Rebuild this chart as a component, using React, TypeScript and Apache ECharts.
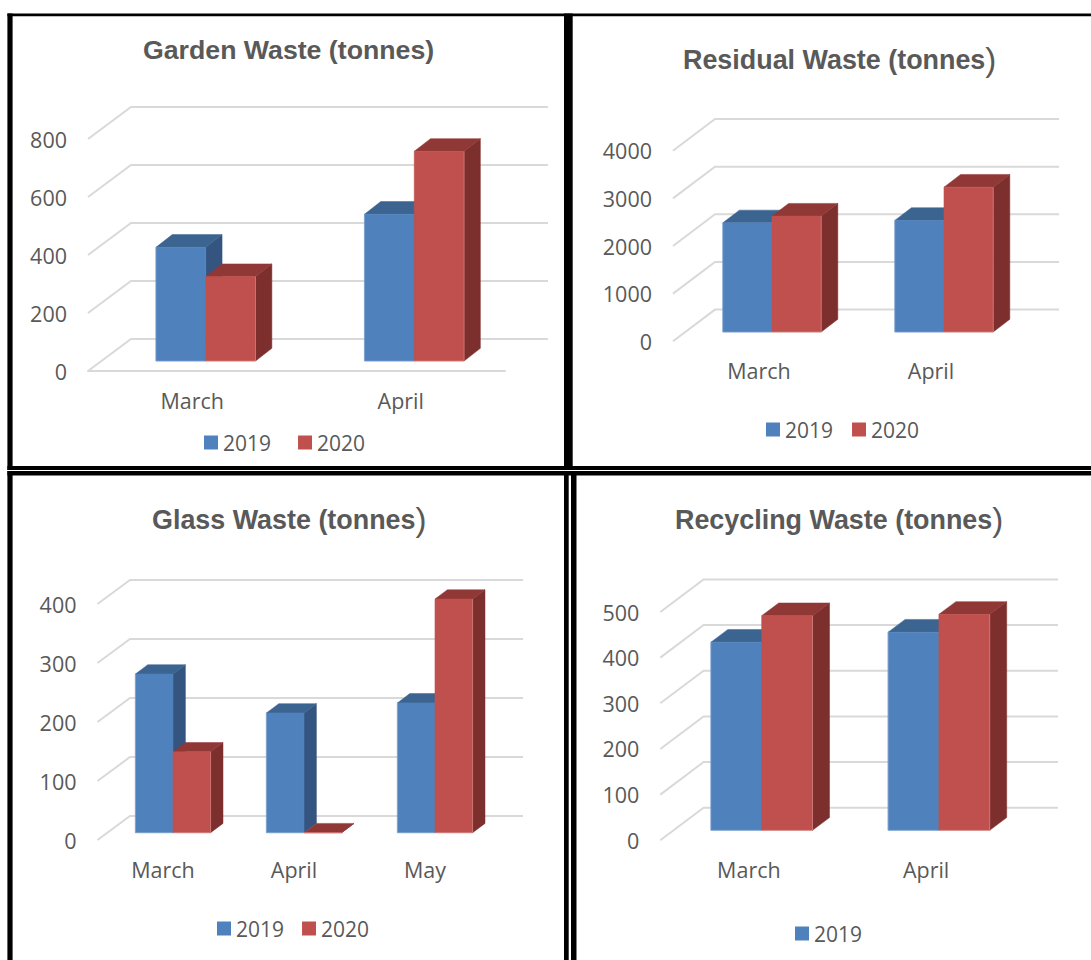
import React, { useEffect, useRef } from "react";
import * as echarts from "echarts";

// Values per waste stream, in tonnes.
const gardenMonths = ["March", "April"];
const garden2019 = [392, 506];
const garden2020 = [291, 723];
const gardenTicks = [0, 200, 400, 600, 800];

const residualMonths = ["March", "April"];
const residual2019 = [2291, 2342];
const residual2020 = [2432, 3040];
const residualTicks = [0, 1000, 2000, 3000, 4000];

const glassMonths = ["March", "April", "May"];
const glass2019 = [269, 203, 220];
const glass2020 = [137, 0, 396];
const glassTicks = [0, 100, 200, 300, 400];

const recyclingMonths = ["March", "April"];
const recycling2019 = [412, 434];
const recycling2020 = [470, 473];
const recyclingTicks = [0, 100, 200, 300, 400, 500];

const TEXT = "#595959";
const GRID = "#D9D9D9";
const LABEL_FONT = "'Open Sans'";
const BLUE = { front: "#4F81BD", top: "#3C6491", side: "#335580", edge: "#93B3DA" };
const RED = { front: "#C0504D", top: "#903836", side: "#7C2F2D", edge: "#DC9896" };

type Panel = {
  months: string[];
  a: number[];
  b: number[];
  ticks: number[];
  title: string;
  closeParen: boolean; // the closing bracket is set in a taller, lighter face
  titleSize: number;
  titleX: number;
  titleY: number;
  grid: { left: number; top: number; width: number; height: number };
  wall: [number, number]; // depth of the back wall
  shift: [number, number]; // offset of the bars into the floor
  depth: [number, number]; // depth of one bar
  barWidth: number;
  floorLine: boolean;
  labelMargin: number;
  legend: string[];
  legendX: number;
  legendY: number;
  legendGap: number;
};

const panels: Panel[] = [
  {
    months: gardenMonths, a: garden2019, b: garden2020, ticks: gardenTicks,
    title: "Garden Waste (tonnes)", closeParen: false, titleSize: 26.7, titleX: 143, titleY: 36,
    grid: { left: 88, top: 139, width: 417, height: 232 },
    wall: [43, 32], shift: [13.5, 10], depth: [16.3, 12.7], barWidth: 49.8,
    floorLine: true, labelMargin: 18,
    legend: ["2019", "2020"], legendX: 204, legendY: 432, legendGap: 27,
  },
  {
    months: residualMonths, a: residual2019, b: residual2020, ticks: residualTicks,
    title: "Residual Waste (tonnes", closeParen: true, titleSize: 26.9, titleX: 683, titleY: 43,
    grid: { left: 673, top: 150.7, width: 344, height: 190.6 },
    wall: [42, 31.7], shift: [13, 9.3], depth: [16.6, 12.7], barWidth: 49.2,
    floorLine: false, labelMargin: 18,
    legend: ["2019", "2020"], legendX: 766, legendY: 419, legendGap: 19,
  },
  {
    months: glassMonths, a: glass2019, b: glass2020, ticks: glassTicks,
    title: "Glass Waste (tonnes", closeParen: true, titleSize: 26.9, titleX: 152, titleY: 503,
    grid: { left: 97.5, top: 604, width: 393, height: 236 },
    wall: [32.5, 24], shift: [10, 7.3], depth: [12.4, 9.3], barWidth: 37.6,
    floorLine: false, labelMargin: 18,
    legend: ["2019", "2020"], legendX: 217, legendY: 918, legendGap: 18,
  },
  {
    months: recyclingMonths, a: recycling2019, b: recycling2020, ticks: recyclingTicks,
    title: "Recycling Waste (tonnes", closeParen: true, titleSize: 26.9, titleX: 675, titleY: 503,
    grid: { left: 660.3, top: 612, width: 354.4, height: 228.3 },
    wall: [43.3, 32.6], shift: [12.8, 10], depth: [17, 12.7], barWidth: 50.8,
    floorLine: false, labelMargin: 18,
    legend: ["2019"], legendX: 795, legendY: 923, legendGap: 18,
  },
];

// Black frames around the four charts, as [x, y, width, height].
const frameBars = [
  [7.4, 13.4, 1083.6, 2.8],
  [7.4, 13.4, 5.2, 456.6],
  [564, 13.4, 8.7, 456.6],
  [7.4, 466, 1083.6, 4],
  [7.4, 471, 1083.6, 4.6],
  [7.4, 471, 5.2, 489],
  [564, 471, 4.7, 489],
  [571, 471, 5.5, 489],
];

function wallSeries(p: Panel, gridIndex: number) {
  return {
    type: "custom",
    xAxisIndex: gridIndex,
    yAxisIndex: gridIndex,
    silent: true,
    z: 1,
    clip: false,
    data: p.ticks.map((t) => [0, t]),
    encode: { x: 0, y: 1 },
    renderItem(params: any, api: any) {
      const cs = params.coordSys;
      const y = api.coord([0, api.value(1)])[1];
      return {
        type: "polyline",
        shape: {
          points: [
            [cs.x, y],
            [cs.x + p.wall[0], y - p.wall[1]],
            [cs.x + cs.width + p.wall[0], y - p.wall[1]],
          ],
        },
        style: { stroke: GRID, lineWidth: 2, fill: null },
      };
    },
  };
}

function barSeries(
  p: Panel,
  gridIndex: number,
  name: string,
  values: number[],
  slot: number,
  c: { front: string; top: string; side: string; edge: string },
) {
  return {
    type: "custom",
    name,
    xAxisIndex: gridIndex,
    yAxisIndex: gridIndex,
    silent: true,
    z: 2,
    clip: false,
    itemStyle: { color: c.front },
    data: values.map((v, i) => [i, v]),
    encode: { x: 0, y: 1 },
    renderItem(_params: any, api: any) {
      const top = api.coord([api.value(0), api.value(1)]);
      const base = api.coord([api.value(0), 0]);
      const x0 = top[0] + p.shift[0] + (slot - 1) * p.barWidth;
      const x1 = x0 + p.barWidth;
      const yT = top[1] - p.shift[1];
      const yB = base[1] - p.shift[1];
      const [dx, dy] = p.depth;
      // Lit rim along the outer and lower edges of the front face.
      const rim =
        slot === 0
          ? [[x0, yT], [x0, yB], [x1, yB]]
          : [[x0, yB], [x1, yB], [x1, yT]];
      return {
        type: "group",
        children: [
          {
            type: "polygon",
            shape: { points: [[x1, yT], [x1 + dx, yT - dy], [x1 + dx, yB - dy], [x1, yB]] },
            style: { fill: c.side, stroke: c.side, lineWidth: 0.5 },
          },
          {
            type: "polygon",
            shape: { points: [[x0, yT], [x0 + dx, yT - dy], [x1 + dx, yT - dy], [x1, yT]] },
            style: { fill: c.top, stroke: c.top, lineWidth: 0.5 },
          },
          {
            type: "rect",
            shape: { x: x0, y: yT, width: p.barWidth, height: yB - yT },
            style: { fill: c.front, stroke: c.front, lineWidth: 0.6 },
          },
          {
            type: "polyline",
            shape: { points: rim },
            style: { stroke: c.edge, lineWidth: 1, fill: null, opacity: 0.5 },
          },
        ],
      };
    },
  };
}

function buildOption() {
  return {
    animation: false,
    backgroundColor: "#FFFFFF",
    title: panels.map((p) => ({
      text: p.closeParen ? `{a|${p.title}}{b|)}` : `{a|${p.title}}`,
      left: p.titleX,
      top: p.titleY,
      padding: 0,
      textStyle: {
        rich: {
          a: {
            fontFamily: "'Liberation Sans'",
            fontWeight: "bold",
            fontSize: p.titleSize,
            color: TEXT,
          },
          b: {
            fontFamily: "'Liberation Sans'",
            fontWeight: "normal",
            fontSize: 33,
            color: TEXT,
          },
        },
      },
    })),
    legend: panels.map((p) => ({
      data: p.legend,
      left: p.legendX,
      top: p.legendY,
      padding: 0,
      icon: "rect",
      itemWidth: 14,
      itemHeight: 14,
      itemGap: p.legendGap,
      selectedMode: false,
      textStyle: { color: TEXT, fontSize: 21, fontFamily: LABEL_FONT },
    })),
    grid: panels.map((p) => ({ ...p.grid, containLabel: false })),
    xAxis: panels.map((p, i) => ({
      type: "category",
      gridIndex: i,
      data: p.months,
      axisTick: { show: false },
      axisLine: { show: p.floorLine, lineStyle: { color: GRID, width: 2 } },
      axisLabel: {
        color: TEXT,
        fontSize: 21.5,
        fontFamily: LABEL_FONT,
        margin: p.labelMargin,
      },
    })),
    yAxis: panels.map((p, i) => ({
      type: "value",
      gridIndex: i,
      min: 0,
      max: p.ticks[p.ticks.length - 1],
      interval: p.ticks[1],
      axisTick: { show: false },
      axisLine: { show: false },
      splitLine: { show: false },
      axisLabel: {
        color: TEXT,
        fontSize: 21.5,
        fontFamily: LABEL_FONT,
        margin: 21,
        formatter: (v: number) => String(v),
      },
    })),
    series: panels.flatMap((p, i) => [
      wallSeries(p, i),
      barSeries(p, i, "2019", p.a, 0, BLUE),
      barSeries(p, i, "2020", p.b, 1, RED),
    ]),
    graphic: frameBars.map(([x, y, width, height]) => ({
      type: "rect",
      silent: true,
      shape: { x, y, width, height },
      style: { fill: "#000000" },
    })),
  };
}

export default function App() {
  const ref = useRef<HTMLDivElement>(null);
  useEffect(() => {
    document.body.style.margin = "0";
    const chart = echarts.init(ref.current!, undefined, { renderer: "svg" });
    chart.setOption(buildOption() as any);
    return () => chart.dispose();
  }, []);
  return <div ref={ref} style={{ width: 1091, height: 960 }} />;
}
